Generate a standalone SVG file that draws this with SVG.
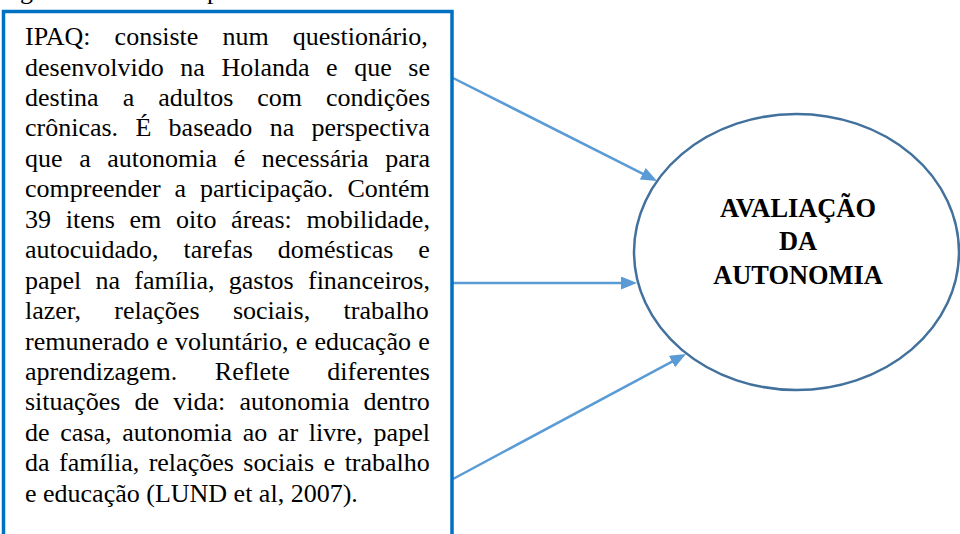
<svg xmlns="http://www.w3.org/2000/svg" width="960" height="534" viewBox="0 0 960 534">
<style>
text{font-family:'Liberation Serif',serif}
.body{font-size:26px;fill:#000}
.title{font-size:26.4px;font-weight:bold;fill:#000;text-anchor:middle}
.conn{stroke:#5B9BD5;stroke-width:2.5;fill:none;marker-end:url(#arr)}
</style>
<defs>
<marker id="arr" markerUnits="userSpaceOnUse" markerWidth="17" markerHeight="14" refX="8" refY="6.5" orient="auto">
<path d="M0,0 L16,6.5 L0,13 z" fill="#5B9BD5"/>
</marker>
</defs>
<rect width="960" height="534" fill="#fff"/>
<text class="body" x="20" y="-1" font-family="Liberation Serif">g</text>
<text class="body" x="207" y="-1" font-family="Liberation Serif">p</text>
<g id="connectors">
<line class="conn" x1="453" y1="78" x2="649.9" y2="177.4"/>
<line class="conn" x1="453" y1="283" x2="629" y2="283"/>
<line class="conn" x1="453" y1="479" x2="679" y2="357.8"/>
</g>
<g id="ipaq" font-family="Liberation Serif">
<rect x="3.5" y="11.5" width="448.5" height="540" fill="none" stroke="#0070C0" stroke-width="3.5"/>
<text class="body" x="25" y="45" word-spacing="17.6">IPAQ: consiste num questionário,</text>
<text class="body" x="25" y="75.5" word-spacing="10.1">desenvolvido na Holanda e que se</text>
<text class="body" x="25" y="105.9" word-spacing="17.5">destina a adultos com condições</text>
<text class="body" x="25" y="136.4" word-spacing="10.8">crônicas. É baseado na perspectiva</text>
<text class="body" x="25" y="166.8" word-spacing="10.1">que a autonomia é necessária para</text>
<text class="body" x="25" y="197.3" word-spacing="7.4">compreender a participação. Contém</text>
<text class="body" x="25" y="227.7" word-spacing="8.2">39 itens em oito áreas: mobilidade,</text>
<text class="body" x="25" y="258.2" word-spacing="18.5">autocuidado, tarefas domésticas e</text>
<text class="body" x="25" y="288.6" word-spacing="7.75">papel na família, gastos financeiros,</text>
<text class="body" x="25" y="319.1" word-spacing="26.9">lazer, relações sociais, trabalho</text>
<text class="body" x="25" y="349.5" word-spacing="0.7">remunerado e voluntário, e educação e</text>
<text class="body" x="25" y="380" word-spacing="31">aprendizagem. Reflete diferentes</text>
<text class="body" x="25" y="410.4" word-spacing="7.7">situações de vida: autonomia dentro</text>
<text class="body" x="25" y="440.9" word-spacing="4.2">de casa, autonomia ao ar livre, papel</text>
<text class="body" x="25" y="471.3" word-spacing="3">da família, relações sociais e trabalho</text>
<text class="body" x="25" y="501.8">e educação (LUND et al, 2007).</text>
</g>
<g id="avaliacao" font-family="Liberation Serif">
<ellipse cx="796.5" cy="252" rx="162.5" ry="138" fill="#fff" stroke="#41719C" stroke-width="2.5"/>
<text class="title" x="798" y="217">AVALIAÇÃO</text>
<text class="title" x="798" y="250">DA</text>
<text class="title" x="798" y="284">AUTONOMIA</text>
</g>
</svg>
